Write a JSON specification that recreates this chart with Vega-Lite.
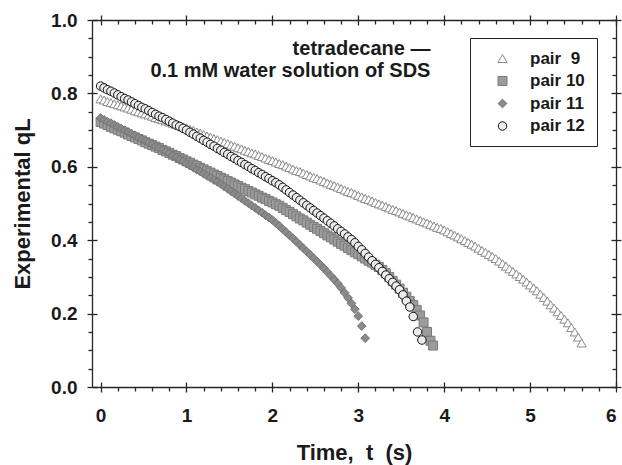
{
  "$schema": "https://vega.github.io/schema/vega-lite/v6.json",
  "width": 524,
  "height": 367,
  "autosize": {"type": "none"},
  "padding": {"left": 92, "top": 20, "right": 6, "bottom": 78},
  "background": "white",
  "config": {
    "view": {"stroke": null},
    "font": "Liberation Sans",
    "axis": {
      "grid": false,
      "domainColor": "#262626",
      "domainWidth": 1.3,
      "tickColor": "#262626",
      "tickWidth": 1.3,
      "labelFont": "Liberation Sans",
      "labelFontSize": 19,
      "labelFontWeight": "bold",
      "labelColor": "#1a1a1a",
      "titleFont": "Liberation Sans",
      "titleFontSize": 22,
      "titleFontWeight": "bold",
      "titleColor": "#1a1a1a"
    },
    "legend": {
      "orient": "none",
      "strokeColor": "#222222",
      "fillColor": "white",
      "padding": 12,
      "labelFont": "Liberation Sans",
      "labelFontSize": 17,
      "labelFontWeight": "bold",
      "labelColor": "#1a1a1a",
      "rowPadding": 4.5,
      "symbolOffset": 12,
      "labelOffset": 19,
      "symbolStrokeWidth": 1
    }
  },
  "resolve": {"axis": {"x": "independent", "y": "independent"}},
  "data": {
    "values": [
      {"s":"pair 9","t":0,"q":0.785},{"s":"pair 9","t":0.04,"q":0.782},{"s":"pair 9","t":0.08,"q":0.778},{"s":"pair 9","t":0.12,"q":0.775},{"s":"pair 9","t":0.16,"q":0.772},{"s":"pair 9","t":0.2,"q":0.769},{"s":"pair 9","t":0.24,"q":0.766},{"s":"pair 9","t":0.28,"q":0.763},{"s":"pair 9","t":0.32,"q":0.76},{"s":"pair 9","t":0.36,"q":0.757},{"s":"pair 9","t":0.4,"q":0.753},{"s":"pair 9","t":0.44,"q":0.75},{"s":"pair 9","t":0.48,"q":0.747},{"s":"pair 9","t":0.52,"q":0.744},{"s":"pair 9","t":0.56,"q":0.741},{"s":"pair 9","t":0.6,"q":0.738},{"s":"pair 9","t":0.64,"q":0.734},{"s":"pair 9","t":0.68,"q":0.731},{"s":"pair 9","t":0.72,"q":0.728},{"s":"pair 9","t":0.76,"q":0.725},{"s":"pair 9","t":0.8,"q":0.722},{"s":"pair 9","t":0.84,"q":0.719},{"s":"pair 9","t":0.88,"q":0.715},{"s":"pair 9","t":0.92,"q":0.712},{"s":"pair 9","t":0.96,"q":0.709},{"s":"pair 9","t":1.0,"q":0.706},
      {"s":"pair 9","t":1.04,"q":0.702},{"s":"pair 9","t":1.08,"q":0.699},{"s":"pair 9","t":1.12,"q":0.695},{"s":"pair 9","t":1.16,"q":0.692},{"s":"pair 9","t":1.2,"q":0.688},{"s":"pair 9","t":1.24,"q":0.684},{"s":"pair 9","t":1.28,"q":0.681},{"s":"pair 9","t":1.32,"q":0.677},{"s":"pair 9","t":1.36,"q":0.674},{"s":"pair 9","t":1.4,"q":0.67},{"s":"pair 9","t":1.44,"q":0.667},{"s":"pair 9","t":1.48,"q":0.663},{"s":"pair 9","t":1.52,"q":0.659},{"s":"pair 9","t":1.56,"q":0.656},{"s":"pair 9","t":1.6,"q":0.652},{"s":"pair 9","t":1.64,"q":0.649},{"s":"pair 9","t":1.68,"q":0.645},{"s":"pair 9","t":1.72,"q":0.642},{"s":"pair 9","t":1.76,"q":0.638},{"s":"pair 9","t":1.8,"q":0.635},{"s":"pair 9","t":1.84,"q":0.631},{"s":"pair 9","t":1.88,"q":0.628},{"s":"pair 9","t":1.92,"q":0.624},{"s":"pair 9","t":1.96,"q":0.62},{"s":"pair 9","t":2.0,"q":0.617},
      {"s":"pair 9","t":2.04,"q":0.613},{"s":"pair 9","t":2.08,"q":0.609},{"s":"pair 9","t":2.12,"q":0.606},{"s":"pair 9","t":2.16,"q":0.602},{"s":"pair 9","t":2.2,"q":0.598},{"s":"pair 9","t":2.24,"q":0.594},{"s":"pair 9","t":2.28,"q":0.59},{"s":"pair 9","t":2.32,"q":0.587},{"s":"pair 9","t":2.36,"q":0.583},{"s":"pair 9","t":2.4,"q":0.579},{"s":"pair 9","t":2.44,"q":0.575},{"s":"pair 9","t":2.48,"q":0.571},{"s":"pair 9","t":2.52,"q":0.568},{"s":"pair 9","t":2.56,"q":0.564},{"s":"pair 9","t":2.6,"q":0.56},{"s":"pair 9","t":2.64,"q":0.556},{"s":"pair 9","t":2.68,"q":0.552},{"s":"pair 9","t":2.72,"q":0.549},{"s":"pair 9","t":2.76,"q":0.545},{"s":"pair 9","t":2.8,"q":0.541},{"s":"pair 9","t":2.84,"q":0.537},{"s":"pair 9","t":2.88,"q":0.533},{"s":"pair 9","t":2.92,"q":0.53},{"s":"pair 9","t":2.96,"q":0.526},{"s":"pair 9","t":3.0,"q":0.522},
      {"s":"pair 9","t":3.04,"q":0.518},{"s":"pair 9","t":3.08,"q":0.514},{"s":"pair 9","t":3.12,"q":0.511},{"s":"pair 9","t":3.16,"q":0.507},{"s":"pair 9","t":3.2,"q":0.503},{"s":"pair 9","t":3.24,"q":0.499},{"s":"pair 9","t":3.28,"q":0.496},{"s":"pair 9","t":3.32,"q":0.492},{"s":"pair 9","t":3.36,"q":0.488},{"s":"pair 9","t":3.4,"q":0.484},{"s":"pair 9","t":3.44,"q":0.481},{"s":"pair 9","t":3.48,"q":0.477},{"s":"pair 9","t":3.52,"q":0.473},{"s":"pair 9","t":3.56,"q":0.469},{"s":"pair 9","t":3.6,"q":0.466},{"s":"pair 9","t":3.64,"q":0.462},{"s":"pair 9","t":3.68,"q":0.458},{"s":"pair 9","t":3.72,"q":0.454},{"s":"pair 9","t":3.76,"q":0.45},{"s":"pair 9","t":3.8,"q":0.447},{"s":"pair 9","t":3.84,"q":0.443},{"s":"pair 9","t":3.88,"q":0.439},{"s":"pair 9","t":3.92,"q":0.435},{"s":"pair 9","t":3.96,"q":0.432},{"s":"pair 9","t":4.0,"q":0.428},
      {"s":"pair 9","t":4.04,"q":0.423},{"s":"pair 9","t":4.08,"q":0.418},{"s":"pair 9","t":4.12,"q":0.414},{"s":"pair 9","t":4.16,"q":0.409},{"s":"pair 9","t":4.2,"q":0.404},{"s":"pair 9","t":4.24,"q":0.399},{"s":"pair 9","t":4.28,"q":0.394},{"s":"pair 9","t":4.32,"q":0.389},{"s":"pair 9","t":4.36,"q":0.384},{"s":"pair 9","t":4.4,"q":0.378},{"s":"pair 9","t":4.44,"q":0.372},{"s":"pair 9","t":4.48,"q":0.367},{"s":"pair 9","t":4.52,"q":0.361},{"s":"pair 9","t":4.56,"q":0.356},{"s":"pair 9","t":4.6,"q":0.35},{"s":"pair 9","t":4.64,"q":0.343},{"s":"pair 9","t":4.68,"q":0.336},{"s":"pair 9","t":4.72,"q":0.329},{"s":"pair 9","t":4.76,"q":0.322},{"s":"pair 9","t":4.8,"q":0.315},{"s":"pair 9","t":4.84,"q":0.308},{"s":"pair 9","t":4.88,"q":0.301},{"s":"pair 9","t":4.92,"q":0.294},{"s":"pair 9","t":4.96,"q":0.286},{"s":"pair 9","t":5.0,"q":0.278},{"s":"pair 9","t":5.04,"q":0.27},{"s":"pair 9","t":5.08,"q":0.262},{"s":"pair 9","t":5.12,"q":0.253},{"s":"pair 9","t":5.16,"q":0.244},{"s":"pair 9","t":5.2,"q":0.234},{"s":"pair 9","t":5.24,"q":0.224},{"s":"pair 9","t":5.28,"q":0.215},{"s":"pair 9","t":5.32,"q":0.205},{"s":"pair 9","t":5.36,"q":0.195},{"s":"pair 9","t":5.4,"q":0.185},{"s":"pair 9","t":5.44,"q":0.175},{"s":"pair 9","t":5.48,"q":0.162},{"s":"pair 9","t":5.52,"q":0.15},{"s":"pair 9","t":5.56,"q":0.136},{"s":"pair 9","t":5.6,"q":0.12},

      {"s":"pair 10","t":0,"q":0.722},{"s":"pair 10","t":0.04,"q":0.718},{"s":"pair 10","t":0.08,"q":0.714},{"s":"pair 10","t":0.12,"q":0.709},{"s":"pair 10","t":0.16,"q":0.705},{"s":"pair 10","t":0.2,"q":0.701},{"s":"pair 10","t":0.24,"q":0.697},{"s":"pair 10","t":0.28,"q":0.693},{"s":"pair 10","t":0.32,"q":0.688},{"s":"pair 10","t":0.36,"q":0.684},{"s":"pair 10","t":0.4,"q":0.68},{"s":"pair 10","t":0.44,"q":0.676},{"s":"pair 10","t":0.48,"q":0.672},{"s":"pair 10","t":0.52,"q":0.667},{"s":"pair 10","t":0.56,"q":0.663},{"s":"pair 10","t":0.6,"q":0.659},{"s":"pair 10","t":0.64,"q":0.655},{"s":"pair 10","t":0.68,"q":0.651},{"s":"pair 10","t":0.72,"q":0.646},{"s":"pair 10","t":0.76,"q":0.642},{"s":"pair 10","t":0.8,"q":0.638},{"s":"pair 10","t":0.84,"q":0.633},{"s":"pair 10","t":0.88,"q":0.629},{"s":"pair 10","t":0.92,"q":0.624},{"s":"pair 10","t":0.96,"q":0.62},{"s":"pair 10","t":1.0,"q":0.615},
      {"s":"pair 10","t":1.04,"q":0.611},{"s":"pair 10","t":1.08,"q":0.606},{"s":"pair 10","t":1.12,"q":0.602},{"s":"pair 10","t":1.16,"q":0.597},{"s":"pair 10","t":1.2,"q":0.593},{"s":"pair 10","t":1.24,"q":0.588},{"s":"pair 10","t":1.28,"q":0.584},{"s":"pair 10","t":1.32,"q":0.579},{"s":"pair 10","t":1.36,"q":0.575},{"s":"pair 10","t":1.4,"q":0.57},{"s":"pair 10","t":1.44,"q":0.566},{"s":"pair 10","t":1.48,"q":0.561},{"s":"pair 10","t":1.52,"q":0.557},{"s":"pair 10","t":1.56,"q":0.552},{"s":"pair 10","t":1.6,"q":0.548},{"s":"pair 10","t":1.64,"q":0.543},{"s":"pair 10","t":1.68,"q":0.539},{"s":"pair 10","t":1.72,"q":0.534},{"s":"pair 10","t":1.76,"q":0.53},{"s":"pair 10","t":1.8,"q":0.525},{"s":"pair 10","t":1.84,"q":0.521},{"s":"pair 10","t":1.88,"q":0.516},{"s":"pair 10","t":1.92,"q":0.512},{"s":"pair 10","t":1.96,"q":0.507},{"s":"pair 10","t":2.0,"q":0.503},
      {"s":"pair 10","t":2.04,"q":0.498},{"s":"pair 10","t":2.08,"q":0.494},{"s":"pair 10","t":2.12,"q":0.488},{"s":"pair 10","t":2.16,"q":0.482},{"s":"pair 10","t":2.2,"q":0.477},{"s":"pair 10","t":2.24,"q":0.471},{"s":"pair 10","t":2.28,"q":0.465},{"s":"pair 10","t":2.32,"q":0.459},{"s":"pair 10","t":2.36,"q":0.454},{"s":"pair 10","t":2.4,"q":0.448},{"s":"pair 10","t":2.44,"q":0.442},{"s":"pair 10","t":2.48,"q":0.436},{"s":"pair 10","t":2.52,"q":0.431},{"s":"pair 10","t":2.56,"q":0.425},{"s":"pair 10","t":2.6,"q":0.419},{"s":"pair 10","t":2.64,"q":0.413},{"s":"pair 10","t":2.68,"q":0.408},{"s":"pair 10","t":2.72,"q":0.402},{"s":"pair 10","t":2.76,"q":0.396},{"s":"pair 10","t":2.8,"q":0.39},{"s":"pair 10","t":2.84,"q":0.385},{"s":"pair 10","t":2.88,"q":0.379},{"s":"pair 10","t":2.92,"q":0.373},{"s":"pair 10","t":2.96,"q":0.367},{"s":"pair 10","t":3.0,"q":0.362},
      {"s":"pair 10","t":3.04,"q":0.356},{"s":"pair 10","t":3.08,"q":0.35},{"s":"pair 10","t":3.12,"q":0.344},{"s":"pair 10","t":3.16,"q":0.339},{"s":"pair 10","t":3.2,"q":0.333},{"s":"pair 10","t":3.24,"q":0.327},{"s":"pair 10","t":3.28,"q":0.319},{"s":"pair 10","t":3.32,"q":0.31},{"s":"pair 10","t":3.36,"q":0.3},{"s":"pair 10","t":3.4,"q":0.289},{"s":"pair 10","t":3.44,"q":0.279},{"s":"pair 10","t":3.48,"q":0.268},{"s":"pair 10","t":3.52,"q":0.257},{"s":"pair 10","t":3.56,"q":0.246},{"s":"pair 10","t":3.6,"q":0.234},{"s":"pair 10","t":3.64,"q":0.223},{"s":"pair 10","t":3.68,"q":0.21},{"s":"pair 10","t":3.72,"q":0.195},{"s":"pair 10","t":3.76,"q":0.176},{"s":"pair 10","t":3.8,"q":0.15},{"s":"pair 10","t":3.84,"q":0.126},{"s":"pair 10","t":3.87,"q":0.113},

      {"s":"pair 11","t":0,"q":0.733},{"s":"pair 11","t":0.04,"q":0.728},{"s":"pair 11","t":0.08,"q":0.723},{"s":"pair 11","t":0.12,"q":0.719},{"s":"pair 11","t":0.16,"q":0.714},{"s":"pair 11","t":0.2,"q":0.709},{"s":"pair 11","t":0.24,"q":0.704},{"s":"pair 11","t":0.28,"q":0.699},{"s":"pair 11","t":0.32,"q":0.695},{"s":"pair 11","t":0.36,"q":0.69},{"s":"pair 11","t":0.4,"q":0.685},{"s":"pair 11","t":0.44,"q":0.68},{"s":"pair 11","t":0.48,"q":0.675},{"s":"pair 11","t":0.52,"q":0.671},{"s":"pair 11","t":0.56,"q":0.666},{"s":"pair 11","t":0.6,"q":0.661},{"s":"pair 11","t":0.64,"q":0.656},{"s":"pair 11","t":0.68,"q":0.651},{"s":"pair 11","t":0.72,"q":0.647},{"s":"pair 11","t":0.76,"q":0.642},{"s":"pair 11","t":0.8,"q":0.637},{"s":"pair 11","t":0.84,"q":0.631},{"s":"pair 11","t":0.88,"q":0.626},{"s":"pair 11","t":0.92,"q":0.62},{"s":"pair 11","t":0.96,"q":0.615},{"s":"pair 11","t":1.0,"q":0.609},
      {"s":"pair 11","t":1.04,"q":0.603},{"s":"pair 11","t":1.08,"q":0.598},{"s":"pair 11","t":1.12,"q":0.592},{"s":"pair 11","t":1.16,"q":0.587},{"s":"pair 11","t":1.2,"q":0.581},{"s":"pair 11","t":1.24,"q":0.575},{"s":"pair 11","t":1.28,"q":0.57},{"s":"pair 11","t":1.32,"q":0.564},{"s":"pair 11","t":1.36,"q":0.559},{"s":"pair 11","t":1.4,"q":0.553},{"s":"pair 11","t":1.44,"q":0.546},{"s":"pair 11","t":1.48,"q":0.54},{"s":"pair 11","t":1.52,"q":0.533},{"s":"pair 11","t":1.56,"q":0.527},{"s":"pair 11","t":1.6,"q":0.52},{"s":"pair 11","t":1.64,"q":0.514},{"s":"pair 11","t":1.68,"q":0.507},{"s":"pair 11","t":1.72,"q":0.501},{"s":"pair 11","t":1.76,"q":0.494},{"s":"pair 11","t":1.8,"q":0.488},{"s":"pair 11","t":1.84,"q":0.481},{"s":"pair 11","t":1.88,"q":0.475},{"s":"pair 11","t":1.92,"q":0.468},{"s":"pair 11","t":1.96,"q":0.462},{"s":"pair 11","t":2.0,"q":0.455},
      {"s":"pair 11","t":2.04,"q":0.447},{"s":"pair 11","t":2.08,"q":0.439},{"s":"pair 11","t":2.12,"q":0.43},{"s":"pair 11","t":2.16,"q":0.422},{"s":"pair 11","t":2.2,"q":0.413},{"s":"pair 11","t":2.24,"q":0.405},{"s":"pair 11","t":2.28,"q":0.396},{"s":"pair 11","t":2.32,"q":0.387},{"s":"pair 11","t":2.36,"q":0.378},{"s":"pair 11","t":2.4,"q":0.369},{"s":"pair 11","t":2.44,"q":0.36},{"s":"pair 11","t":2.48,"q":0.351},{"s":"pair 11","t":2.52,"q":0.342},{"s":"pair 11","t":2.56,"q":0.333},{"s":"pair 11","t":2.6,"q":0.323},{"s":"pair 11","t":2.64,"q":0.313},{"s":"pair 11","t":2.68,"q":0.303},{"s":"pair 11","t":2.72,"q":0.293},{"s":"pair 11","t":2.76,"q":0.282},{"s":"pair 11","t":2.8,"q":0.27},{"s":"pair 11","t":2.84,"q":0.257},{"s":"pair 11","t":2.88,"q":0.243},{"s":"pair 11","t":2.92,"q":0.228},{"s":"pair 11","t":2.96,"q":0.212},{"s":"pair 11","t":3.0,"q":0.193},{"s":"pair 11","t":3.04,"q":0.166},{"s":"pair 11","t":3.08,"q":0.133},

      {"s":"pair 12","t":0,"q":0.82},{"s":"pair 12","t":0.04,"q":0.815},{"s":"pair 12","t":0.08,"q":0.81},{"s":"pair 12","t":0.12,"q":0.806},{"s":"pair 12","t":0.16,"q":0.801},{"s":"pair 12","t":0.2,"q":0.796},{"s":"pair 12","t":0.24,"q":0.791},{"s":"pair 12","t":0.28,"q":0.786},{"s":"pair 12","t":0.32,"q":0.782},{"s":"pair 12","t":0.36,"q":0.777},{"s":"pair 12","t":0.4,"q":0.772},{"s":"pair 12","t":0.44,"q":0.767},{"s":"pair 12","t":0.48,"q":0.762},{"s":"pair 12","t":0.52,"q":0.758},{"s":"pair 12","t":0.56,"q":0.753},{"s":"pair 12","t":0.6,"q":0.748},{"s":"pair 12","t":0.64,"q":0.743},{"s":"pair 12","t":0.68,"q":0.738},{"s":"pair 12","t":0.72,"q":0.734},{"s":"pair 12","t":0.76,"q":0.729},{"s":"pair 12","t":0.8,"q":0.724},{"s":"pair 12","t":0.84,"q":0.719},{"s":"pair 12","t":0.88,"q":0.714},{"s":"pair 12","t":0.92,"q":0.71},{"s":"pair 12","t":0.96,"q":0.705},{"s":"pair 12","t":1.0,"q":0.7},
      {"s":"pair 12","t":1.04,"q":0.694},{"s":"pair 12","t":1.08,"q":0.689},{"s":"pair 12","t":1.12,"q":0.683},{"s":"pair 12","t":1.16,"q":0.678},{"s":"pair 12","t":1.2,"q":0.672},{"s":"pair 12","t":1.24,"q":0.667},{"s":"pair 12","t":1.28,"q":0.661},{"s":"pair 12","t":1.32,"q":0.656},{"s":"pair 12","t":1.36,"q":0.65},{"s":"pair 12","t":1.4,"q":0.645},{"s":"pair 12","t":1.44,"q":0.639},{"s":"pair 12","t":1.48,"q":0.634},{"s":"pair 12","t":1.52,"q":0.628},{"s":"pair 12","t":1.56,"q":0.623},{"s":"pair 12","t":1.6,"q":0.617},{"s":"pair 12","t":1.64,"q":0.612},{"s":"pair 12","t":1.68,"q":0.606},{"s":"pair 12","t":1.72,"q":0.601},{"s":"pair 12","t":1.76,"q":0.595},{"s":"pair 12","t":1.8,"q":0.59},{"s":"pair 12","t":1.84,"q":0.584},{"s":"pair 12","t":1.88,"q":0.579},{"s":"pair 12","t":1.92,"q":0.573},{"s":"pair 12","t":1.96,"q":0.568},{"s":"pair 12","t":2.0,"q":0.562},
      {"s":"pair 12","t":2.04,"q":0.557},{"s":"pair 12","t":2.08,"q":0.551},{"s":"pair 12","t":2.12,"q":0.544},{"s":"pair 12","t":2.16,"q":0.537},{"s":"pair 12","t":2.2,"q":0.53},{"s":"pair 12","t":2.24,"q":0.523},{"s":"pair 12","t":2.28,"q":0.516},{"s":"pair 12","t":2.32,"q":0.509},{"s":"pair 12","t":2.36,"q":0.502},{"s":"pair 12","t":2.4,"q":0.495},{"s":"pair 12","t":2.44,"q":0.488},{"s":"pair 12","t":2.48,"q":0.481},{"s":"pair 12","t":2.52,"q":0.474},{"s":"pair 12","t":2.56,"q":0.467},{"s":"pair 12","t":2.6,"q":0.46},{"s":"pair 12","t":2.64,"q":0.453},{"s":"pair 12","t":2.68,"q":0.446},{"s":"pair 12","t":2.72,"q":0.439},{"s":"pair 12","t":2.76,"q":0.431},{"s":"pair 12","t":2.8,"q":0.424},{"s":"pair 12","t":2.84,"q":0.417},{"s":"pair 12","t":2.88,"q":0.409},{"s":"pair 12","t":2.92,"q":0.402},{"s":"pair 12","t":2.96,"q":0.393},{"s":"pair 12","t":3.0,"q":0.383},
      {"s":"pair 12","t":3.04,"q":0.374},{"s":"pair 12","t":3.08,"q":0.364},{"s":"pair 12","t":3.12,"q":0.354},{"s":"pair 12","t":3.16,"q":0.344},{"s":"pair 12","t":3.2,"q":0.334},{"s":"pair 12","t":3.24,"q":0.325},{"s":"pair 12","t":3.28,"q":0.315},{"s":"pair 12","t":3.32,"q":0.305},{"s":"pair 12","t":3.36,"q":0.295},{"s":"pair 12","t":3.4,"q":0.285},{"s":"pair 12","t":3.44,"q":0.275},{"s":"pair 12","t":3.48,"q":0.265},{"s":"pair 12","t":3.52,"q":0.251},{"s":"pair 12","t":3.56,"q":0.234},{"s":"pair 12","t":3.6,"q":0.218},{"s":"pair 12","t":3.64,"q":0.192},{"s":"pair 12","t":3.69,"q":0.15},{"s":"pair 12","t":3.74,"q":0.128}
    ]
  },
  "layer": [
    {
      "mark": {"type": "point", "filled": true, "strokeWidth": 1, "opacity": 1},
      "encoding": {
        "x": {
          "field": "t", "type": "quantitative",
          "scale": {"domain": [-0.1, 6], "nice": false, "zero": false},
          "axis": {"orient": "bottom", "values": [0, 1, 2, 3, 4, 5, 6], "tickSize": 5, "labelPadding": 14, "title": "Time,\u00a0\u00a0t\u00a0\u00a0(s)", "titlePadding": 17}
        },
        "y": {
          "field": "q", "type": "quantitative",
          "scale": {"domain": [0, 1], "nice": false, "zero": false},
          "axis": {"orient": "left", "values": [0, 0.2, 0.4, 0.6, 0.8, 1], "format": ".1f", "tickSize": 5, "labelPadding": 10, "title": "Experimental qL", "titlePadding": 16}
        },
        "shape": {
          "field": "s", "type": "nominal",
          "scale": {"domain": ["pair 9", "pair 10", "pair 11", "pair 12"], "range": ["triangle-up", "square", "diamond", "circle"]},
          "legend": {"title": null, "legendX": 378, "legendY": 18, "labelExpr": "datum.label == 'pair 9' ? 'pair\u20079' : datum.label"}
        },
        "size": {
          "field": "s", "type": "nominal",
          "scale": {"domain": ["pair 9", "pair 10", "pair 11", "pair 12"], "range": [85, 72, 105, 90]},
          "legend": {"title": null, "legendX": 378, "legendY": 18, "labelExpr": "datum.label == 'pair 9' ? 'pair\u20079' : datum.label"}
        },
        "fill": {
          "field": "s", "type": "nominal",
          "scale": {"domain": ["pair 9", "pair 10", "pair 11", "pair 12"], "range": ["#ffffff", "#9c9c9c", "#8a8a8a", "#ececec"]},
          "legend": {"title": null, "legendX": 378, "legendY": 18, "labelExpr": "datum.label == 'pair 9' ? 'pair\u20079' : datum.label"}
        },
        "stroke": {
          "field": "s", "type": "nominal",
          "scale": {"domain": ["pair 9", "pair 10", "pair 11", "pair 12"], "range": ["#8a8a8a", "#7a7a7a", "#747474", "#111111"]},
          "legend": {"title": null, "legendX": 378, "legendY": 18, "labelExpr": "datum.label == 'pair 9' ? 'pair\u20079' : datum.label"}
        }
      }
    },
    {
      "data": {"values": [{}]},
      "mark": {"type": "point", "opacity": 0},
      "encoding": {
        "x": {"datum": 0, "type": "quantitative", "scale": {"domain": [-0.1, 6], "nice": false, "zero": false},
              "axis": {"orient": "bottom", "values": [0, 1, 2, 3, 4, 5, 6], "tickSize": -5, "labels": false, "domain": false, "title": null}},
        "y": {"datum": 0, "type": "quantitative", "scale": {"domain": [0, 1], "nice": false, "zero": false},
              "axis": {"orient": "left", "values": [0, 0.2, 0.4, 0.6, 0.8, 1], "tickSize": -5, "labels": false, "domain": false, "title": null}}
      }
    },
    {
      "data": {"values": [{}]},
      "mark": {"type": "point", "opacity": 0},
      "encoding": {
        "x": {"datum": 0, "type": "quantitative", "scale": {"domain": [-0.1, 6], "nice": false, "zero": false},
              "axis": {"orient": "bottom", "values": [0.2, 0.4, 0.6, 0.8, 1.2, 1.4, 1.6, 1.8, 2.2, 2.4, 2.6, 2.8, 3.2, 3.4, 3.6, 3.8, 4.2, 4.4, 4.6, 4.8, 5.2, 5.4, 5.6, 5.8], "tickSize": 4, "labels": false, "domain": false, "title": null}},
        "y": {"datum": 0, "type": "quantitative", "scale": {"domain": [0, 1], "nice": false, "zero": false},
              "axis": {"orient": "left", "values": [0.05, 0.1, 0.15, 0.25, 0.3, 0.35, 0.45, 0.5, 0.55, 0.65, 0.7, 0.75, 0.85, 0.9, 0.95], "tickSize": 4, "labels": false, "domain": false, "title": null}}
      }
    },
    {
      "data": {"values": [{}]},
      "mark": {"type": "point", "opacity": 0},
      "encoding": {
        "x": {"datum": 0, "type": "quantitative", "scale": {"domain": [-0.1, 6], "nice": false, "zero": false},
              "axis": {"orient": "top", "values": [0, 1, 2, 3, 4, 5, 6], "tickSize": 5, "labels": false, "domain": true, "title": null}},
        "y": {"datum": 0, "type": "quantitative", "scale": {"domain": [0, 1], "nice": false, "zero": false},
              "axis": {"orient": "right", "values": [0, 0.2, 0.4, 0.6, 0.8, 1], "tickSize": 5, "labels": false, "domain": true, "title": null}}
      }
    },
    {
      "data": {"values": [{}]},
      "mark": {"type": "point", "opacity": 0},
      "encoding": {
        "x": {"datum": 0, "type": "quantitative", "scale": {"domain": [-0.1, 6], "nice": false, "zero": false},
              "axis": {"orient": "top", "values": [0, 1, 2, 3, 4, 5, 6], "tickSize": -5, "labels": false, "domain": false, "title": null}},
        "y": {"datum": 0, "type": "quantitative", "scale": {"domain": [0, 1], "nice": false, "zero": false},
              "axis": {"orient": "right", "values": [0, 0.2, 0.4, 0.6, 0.8, 1], "tickSize": -5, "labels": false, "domain": false, "title": null}}
      }
    },
    {
      "data": {"values": [{}]},
      "mark": {"type": "point", "opacity": 0},
      "encoding": {
        "x": {"datum": 0, "type": "quantitative", "scale": {"domain": [-0.1, 6], "nice": false, "zero": false},
              "axis": {"orient": "top", "values": [0.2, 0.4, 0.6, 0.8, 1.2, 1.4, 1.6, 1.8, 2.2, 2.4, 2.6, 2.8, 3.2, 3.4, 3.6, 3.8, 4.2, 4.4, 4.6, 4.8, 5.2, 5.4, 5.6, 5.8], "tickSize": -4, "labels": false, "domain": false, "title": null}},
        "y": {"datum": 0, "type": "quantitative", "scale": {"domain": [0, 1], "nice": false, "zero": false},
              "axis": {"orient": "right", "values": [0.05, 0.1, 0.15, 0.25, 0.3, 0.35, 0.45, 0.5, 0.55, 0.65, 0.7, 0.75, 0.85, 0.9, 0.95], "tickSize": -4, "labels": false, "domain": false, "title": null}}
      }
    },
    {
      "data": {"values": [{}]},
      "mark": {"type": "text", "align": "right", "baseline": "middle", "font": "Liberation Sans", "fontSize": 20, "fontWeight": "bold", "color": "#1a1a1a", "text": "tetradecane —"},
      "encoding": {
        "x": {"datum": 3.84, "type": "quantitative", "axis": null},
        "y": {"datum": 0.921, "type": "quantitative", "axis": null}
      }
    },
    {
      "data": {"values": [{}]},
      "mark": {"type": "text", "align": "right", "baseline": "middle", "font": "Liberation Sans", "fontSize": 20, "fontWeight": "bold", "color": "#1a1a1a", "text": "0.1 mM water solution of SDS"},
      "encoding": {
        "x": {"datum": 3.84, "type": "quantitative", "axis": null},
        "y": {"datum": 0.86, "type": "quantitative", "axis": null}
      }
    }
  ]
}
